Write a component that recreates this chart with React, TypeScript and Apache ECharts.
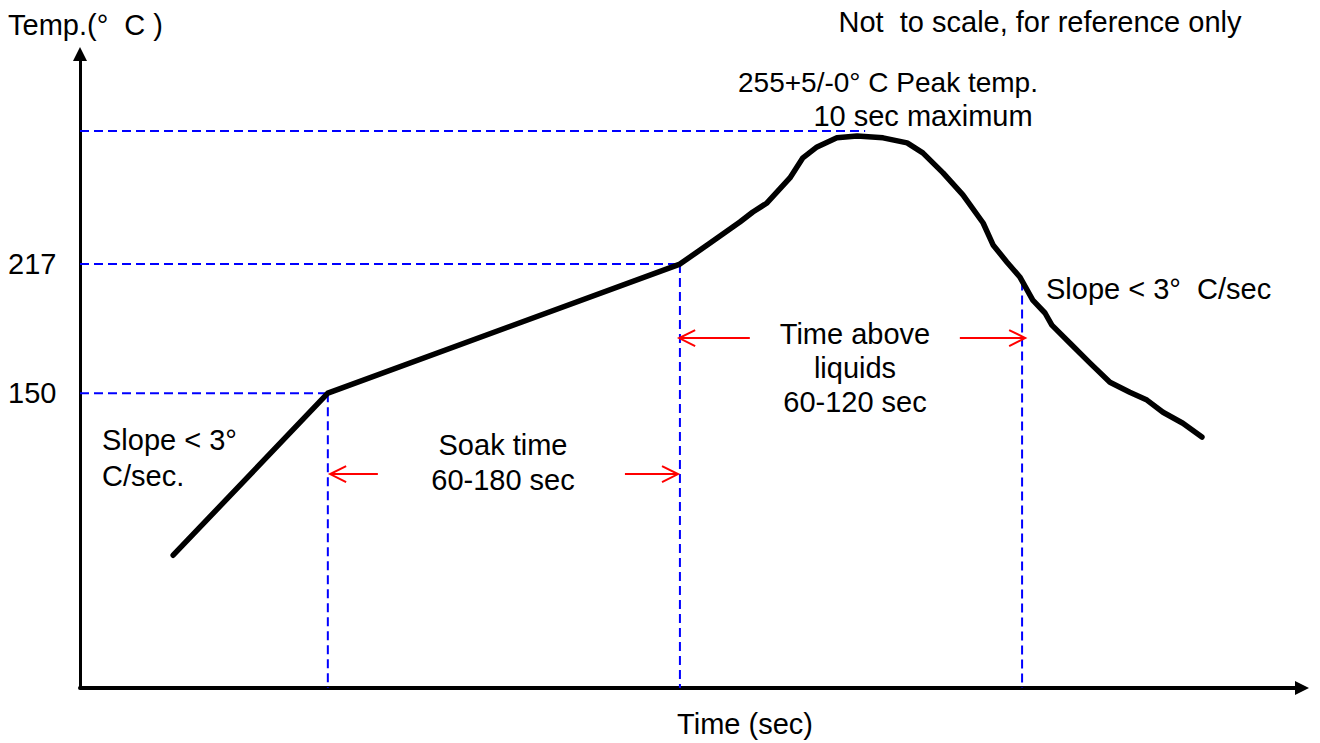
import React, { useEffect, useRef } from "react";
import * as echarts from "echarts";

// Diagram units (not to scale): time along x, level along y
const timeMax = 320;
const levelMin = -3;
const levelMax = 326;
const yTickValues = [150, 217];

const profileTime = [24.4, 64.9, 157.1, 165.0, 172.8, 176.2, 179.9, 185.9, 189.3, 193.0, 198.2, 203.5, 210.3, 216.6, 220.7, 226.0, 231.2, 236.5, 239.1, 242.7, 246.1, 249.5, 252.7, 254.5, 259.2, 264.5, 269.7, 274.9, 279.4, 283.6, 288.8, 293.8];
const profileLevel = [65.9, 150.0, 217.0, 227.9, 238.8, 244.0, 248.7, 261.7, 272.1, 277.8, 282.5, 283.5, 282.5, 279.9, 274.7, 264.3, 252.9, 238.3, 226.9, 218.1, 210.3, 198.3, 191.6, 185.3, 176.0, 165.6, 155.7, 150.5, 146.4, 140.1, 134.4, 127.2];

const hGuideLevel = [150, 217, 286];
const hGuideEnd = [64.9, 157.1, 205.6];
const vGuideTime = [64.9, 157.1, 246.7];
const vGuideTop = [150, 217, 208];

const arrowTail = [78.0, 142.7, 175.4, 230.4];
const arrowTip = [65.5, 156.6, 156.9, 247.5];
const arrowLevel = [108.0, 108.0, 178.6, 178.6];

const FONT = "Liberation Sans, Arial, sans-serif";
const FS = 29;
const TRI = "path://M5,0L10,10L0,10Z";

export default function App() {
  const ref = useRef<HTMLDivElement>(null);
  useEffect(() => {
    if (!ref.current) return;
    const chart = echarts.init(ref.current, null, { renderer: "svg" });
    const dashStyle = { color: "#0000ff", width: 2, type: [9, 5] as any };
    const guideSeries: any[] = [];
    hGuideLevel.forEach((lv, i) => {
      guideSeries.push({
        type: "line",
        data: [[0, lv], [hGuideEnd[i], lv]],
        symbol: "none",
        lineStyle: dashStyle,
        silent: true,
        z: 1,
      });
    });
    vGuideTime.forEach((t, i) => {
      guideSeries.push({
        type: "line",
        data: [[t, vGuideTop[i]], [t, levelMin]],
        symbol: "none",
        lineStyle: dashStyle,
        silent: true,
        z: 1,
      });
    });
    const textStyle = (extra: any, size: number = FS) => ({
      font: `${size}px ${FONT}`,
      fill: "#000",
      ...extra,
    });
    chart.setOption({
      animation: false,
      backgroundColor: "#fff",
      grid: { left: 80, right: 18, top: 54, bottom: 55 },
      xAxis: {
        type: "value",
        min: 0,
        max: timeMax,
        axisLine: {
          show: true,
          onZero: false,
          symbol: ["none", TRI],
          symbolSize: [14, 17],
          lineStyle: { color: "#000", width: 4 },
        },
        axisTick: { show: false },
        axisLabel: { show: false },
        splitLine: { show: false },
      },
      yAxis: {
        type: "value",
        min: levelMin,
        max: levelMax,
        axisLine: {
          show: true,
          onZero: false,
          symbol: ["none", TRI],
          symbolSize: [14, 17],
          lineStyle: { color: "#000", width: 3 },
        },
        axisTick: { show: false },
        axisLabel: {
          show: true,
          customValues: yTickValues,
          color: "#000",
          fontSize: FS,
          fontFamily: FONT,
          align: "left",
          margin: 72,
        },
        splitLine: { show: false },
      },
      series: [
        ...guideSeries,
        {
          type: "custom",
          z: 3,
          silent: true,
          encode: { x: [0, 1], y: 2 },
          data: arrowTail.map((t, i) => [t, arrowTip[i], arrowLevel[i]]),
          renderItem: (params: any, api: any) => {
            const tail = api.coord([api.value(0), api.value(2)]);
            const tip = api.coord([api.value(1), api.value(2)]);
            const dir = Math.sign(tip[0] - tail[0]);
            const L = 16;
            const H = 8;
            return {
              type: "group",
              children: [
                {
                  type: "line",
                  shape: { x1: tail[0], y1: tail[1], x2: tip[0], y2: tip[1] },
                  style: { stroke: "#ff0000", lineWidth: 2 },
                },
                {
                  type: "polyline",
                  shape: {
                    points: [
                      [tip[0] - dir * L, tip[1] - H],
                      [tip[0], tip[1]],
                      [tip[0] - dir * L, tip[1] + H],
                    ],
                  },
                  style: { stroke: "#ff0000", fill: null, lineWidth: 2 },
                },
              ],
            };
          },
        },
        {
          type: "line",
          z: 5,
          data: profileTime.map((t, i) => [t, profileLevel[i]]),
          symbol: "none",
          smooth: false,
          lineStyle: { color: "#000", width: 5.5, cap: "round", join: "round" },
          silent: true,
        },
      ],
      graphic: [
        { type: "text", x: 8, y: 25, style: textStyle({ text: "Temp.(°  C )", textAlign: "left", textVerticalAlign: "middle" }) },
        { type: "text", x: 1040, y: 22, style: textStyle({ text: "Not  to scale, for reference only", textAlign: "center", textVerticalAlign: "middle" }) },
        { type: "text", x: 888, y: 82, style: textStyle({ text: "255+5/-0° C Peak temp.", textAlign: "center", textVerticalAlign: "middle" }, 28) },
        { type: "text", x: 923, y: 116, style: textStyle({ text: "10 sec maximum", textAlign: "center", textVerticalAlign: "middle" }) },
        { type: "text", x: 102, y: 458, style: textStyle({ text: "Slope < 3°\nC/sec.", textAlign: "left", textVerticalAlign: "middle", lineHeight: 36 }) },
        { type: "text", x: 503, y: 462, style: textStyle({ text: "Soak time\n60-180 sec", textAlign: "center", textVerticalAlign: "middle", lineHeight: 35 }) },
        { type: "text", x: 855, y: 368, style: textStyle({ text: "Time above\nliquids\n60-120 sec", textAlign: "center", textVerticalAlign: "middle", lineHeight: 34 }) },
        { type: "text", x: 1046, y: 289, style: textStyle({ text: "Slope < 3°  C/sec", textAlign: "left", textVerticalAlign: "middle" }) },
        { type: "text", x: 745, y: 724, style: textStyle({ text: "Time (sec)", textAlign: "center", textVerticalAlign: "middle" }) },
      ],
    });
    return () => chart.dispose();
  }, []);
  return (
    <div
      ref={ref}
      style={{ position: "fixed", left: 0, top: 0, width: 1320, height: 743, background: "#fff" }}
    />
  );
}
